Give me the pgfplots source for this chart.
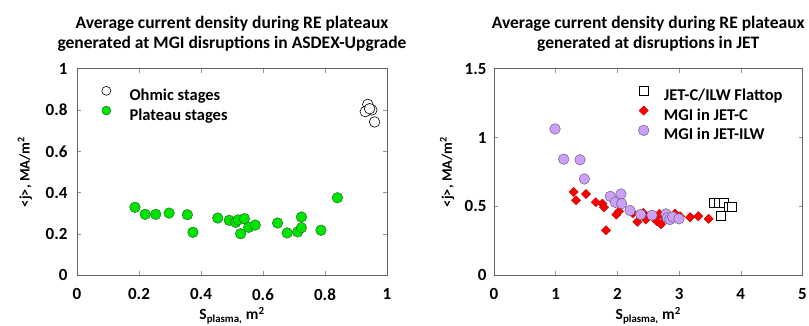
\documentclass[border=0pt]{standalone}
\usepackage{fontspec}
\setmainfont{Carlito}
\usepackage{pgfplots}
\pgfplotsset{compat=1.18}

\definecolor{mygreen}{RGB}{0,228,0}
\definecolor{greenedge}{RGB}{40,110,40}
\definecolor{mypurple}{RGB}{204,160,250}
\definecolor{purpleedge}{RGB}{110,100,120}
\definecolor{axgray}{RGB}{100,100,100}

\pgfplotsset{
 myaxis/.style={
  scale only axis, anchor=south west,
  height=206.7pt,
  axis line style={axgray, line width=0.8pt},
  tick style={axgray!70, line width=0.6pt},
  major tick length=4pt,
  tick align=inside,
  xtick pos=both, ytick pos=both,
  tick label style={font=\bfseries\fontsize{17}{17}\selectfont},
  xticklabel shift=10pt,
  /pgf/number format/assume math mode=true,
  xlabel style={font=\bfseries\fontsize{15.5}{15.5}\selectfont, at={(axis description cs:0.5,-0.195)}, anchor=center},
  ylabel style={font=\bfseries\fontsize{14.5}{14.5}\selectfont, anchor=center},
  title style={font=\bfseries\fontsize{17.5}{19.5}\selectfont, align=center, at={(0.5,1)}, anchor=south, inner sep=0pt, yshift=11pt},
  legend style={draw=none, fill=none, inner sep=0pt, column sep=0pt, row sep=0pt, nodes={inner sep=0pt}, font=\bfseries\fontsize{16.5}{16.5}\selectfont},
  legend cell align=left,
  clip=false,
 }
}

\begin{document}
\begin{tikzpicture}
\useasboundingbox (0,0) rectangle (809pt,326pt);
% ---------- ASDEX-Upgrade ----------
\begin{axis}[myaxis,
  at={(77pt,50.7pt)}, width=310pt,
  xmin=0, xmax=1, ymin=0, ymax=1,
  xtick={0,0.2,...,1}, ytick={0,0.2,...,1},
  xticklabels={0,0.2,0.4,0.6,0.8,1},
  yticklabels={0,0.2,0.4,0.6,0.8,1},
  yticklabel shift=6pt,
  title={Average current density during RE plateaux\\generated at MGI disruptions in ASDEX-Upgrade},
  xlabel={S\textsubscript{plasma,} m\textsuperscript{2}},
  ylabel={<j>, MA/m\textsuperscript{2}},
  ylabel style={at={(axis description cs:-0.168,0.5)}},
  legend style={at={(axis description cs:0.074,0.935)}, anchor=north west},
  legend image code/.code={\path (-6pt,-5pt) (23pt,13pt); \draw[#1, mark size=4.5pt] plot coordinates {(0pt,4.6pt)};},
]
\addplot[only marks, mark=*, mark size=5.3pt, mark options={fill=white, draw=black, line width=0.6pt}]
 coordinates {(0.938,0.827) (0.951,0.800) (0.930,0.792) (0.944,0.806) (0.960,0.742)};
\addlegendentry{Ohmic stages}
\addplot[only marks, mark=*, mark size=5.3pt, mark options={fill=mygreen, draw=greenedge, line width=0.5pt}]
 coordinates {
 (0.187,0.329) (0.220,0.295) (0.254,0.295) (0.297,0.301) (0.356,0.293)
 (0.374,0.208) (0.454,0.277) (0.491,0.266) (0.512,0.256) (0.520,0.268)
 (0.540,0.274) (0.528,0.201) (0.554,0.232) (0.575,0.243) (0.647,0.253)
 (0.678,0.205) (0.712,0.210) (0.724,0.230) (0.724,0.282) (0.787,0.218)
 (0.840,0.375)};
\addlegendentry{Plateau stages}
\end{axis}
% ---------- JET ----------
\begin{axis}[myaxis,
  at={(494pt,50.7pt)}, width=308.5pt,
  xmin=0, xmax=5, ymin=0, ymax=1.5,
  xtick={0,1,2,3,4,5}, ytick={0,0.5,1,1.5},
  yticklabels={0,0.5,1,1.5},
  yticklabel shift=4pt,
  title={Average current density during RE plateaux\\generated at disruptions in JET},
  xlabel={S\textsubscript{plasma,} m\textsuperscript{2}},
  ylabel={<j>, MA/m\textsuperscript{2}},
  ylabel style={at={(axis description cs:-0.152,0.5)}},
  legend style={at={(axis description cs:0.4645,0.935)}, anchor=north west},
  legend image code/.code={\path (-6pt,-5pt) (20pt,13pt); \draw[#1] plot coordinates {(0pt,4.6pt)};},
]
\addplot[only marks, mark=square*, mark size=4.5pt, mark options={fill=white, draw=black, line width=0.6pt}]
 coordinates {(3.57,0.525) (3.65,0.525) (3.72,0.525) (3.674,0.429) (3.798,0.496) (3.85,0.496)};
\addlegendentry{JET-C/ILW Flattop}
\addplot[only marks, mark=square*, mark size=3.3pt, mark options={rotate=45, fill=red, draw=red!70!black, line width=0.3pt}]
 coordinates {
 (1.291,0.605) (1.329,0.544) (1.491,0.590) (1.648,0.530) (1.756,0.520)
 (1.783,0.494) (1.815,0.327) (1.983,0.441) (2.026,0.465) (2.25,0.450)
 (2.323,0.388) (2.420,0.453) (2.458,0.405) (2.55,0.430) (2.637,0.392)
 (2.680,0.446) (2.707,0.371) (2.770,0.417) (2.934,0.448) (3.015,0.429)
 (3.177,0.422) (3.311,0.429) (3.479,0.410)};
\addlegendentry{MGI in JET-C}
\addplot[only marks, mark=*, mark size=5.3pt, mark options={fill=mypurple, draw=purpleedge, line width=0.5pt}]
 coordinates {
 (0.989,1.062) (1.129,0.843) (1.394,0.838) (1.464,0.699) (1.885,0.573)
 (2.058,0.590) (1.966,0.530) (2.069,0.520) (2.204,0.470) (2.377,0.441)
 (2.561,0.436) (2.788,0.446) (2.809,0.417) (2.850,0.405) (2.896,0.424)
 (2.998,0.410)};
\addlegendentry{MGI in JET-ILW}
\end{axis}
\end{tikzpicture}
\end{document}
